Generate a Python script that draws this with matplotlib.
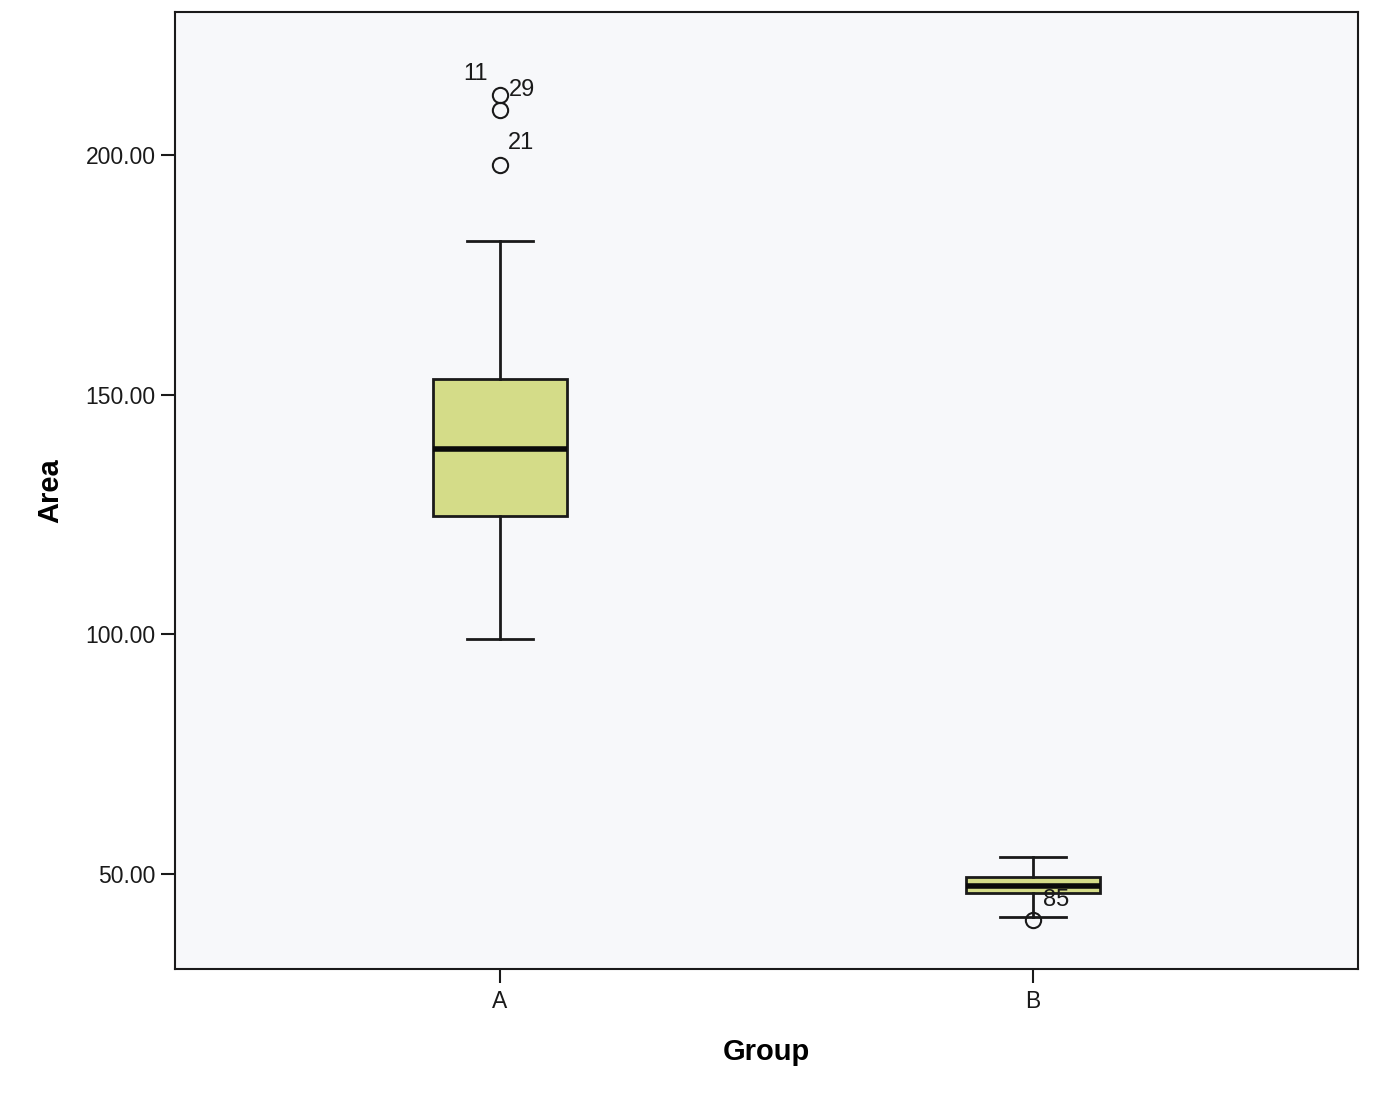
import matplotlib
matplotlib.use("Agg")
import matplotlib.pyplot as plt

plt.rcParams['font.family'] = ['Liberation Sans', 'DejaVu Sans']

groups = ["A", "B"]
whislo = [99.0, 41.0]
q1 = [124.6, 46.0]
med = [138.7, 47.5]
q3 = [153.3, 49.4]
whishi = [182.1, 53.5]
outliers = [[212.5, 209.4, 197.9], [40.4]]
outlier_ids = [["11", "29", "21"], ["85"]]

fig = plt.figure(figsize=(13.75, 11), dpi=100)
ax = fig.add_axes([0.1273, 0.1191, 0.8603, 0.8700])
ax.set_facecolor('#f7f8fa')
fig.patch.set_facecolor('white')

stats = []
for i, g in enumerate(groups):
    stats.append(dict(label=g, whislo=whislo[i], q1=q1[i], med=med[i],
                      q3=q3[i], whishi=whishi[i], fliers=outliers[i]))

positions = [1, 2]
ax.bxp(stats, positions=positions, widths=0.253, patch_artist=True,
       boxprops=dict(facecolor='#d4dc88', edgecolor='#1a1a1a', linewidth=2),
       medianprops=dict(color='#0a0a0a', linewidth=4),
       whiskerprops=dict(color='#1a1a1a', linewidth=2),
       capprops=dict(color='#1a1a1a', linewidth=2),
       flierprops=dict(marker='o', markerfacecolor='none', markeredgecolor='#1a1a1a',
                       markersize=11, markeredgewidth=1.5),
       capwidths=0.125)

# outlier labels
offsets = {"11": (-12, 21, 'right'), "29": (9, 20, 'left'), "21": (8, 22, 'left'), "85": (10, 20, 'left')}
for i, pos in enumerate(positions):
    for val, lab in zip(outliers[i], outlier_ids[i]):
        dx, dy, ha = offsets.get(lab, (8, 8, 'left'))
        ax.annotate(lab, (pos, val), xytext=(dx, dy), textcoords='offset pixels',
                    ha=ha, va='center', fontsize=17, color='#1a1a1a')

ax.set_xlim(0.39, 2.61)
ax.set_ylim(30.2, 229.8)
ax.set_yticks([50, 100, 150, 200])
ax.set_yticklabels([f"{v:.2f}" for v in [50, 100, 150, 200]])
ax.set_xticks(positions)
ax.set_xticklabels(groups)
ax.tick_params(axis='both', labelsize=16.5, length=10, width=1.5, colors='#1a1a1a', direction='out')
ax.tick_params(axis='y', pad=4)
ax.tick_params(axis='x', pad=5)
for s in ax.spines.values():
    s.set_linewidth(1.5)
    s.set_color('#1a1a1a')

ax.set_xlabel('Group', fontsize=21, fontweight='bold', labelpad=18)
ax.set_ylabel('Area', fontsize=21, fontweight='bold', labelpad=15)

fig.savefig('out.png', dpi=100)
